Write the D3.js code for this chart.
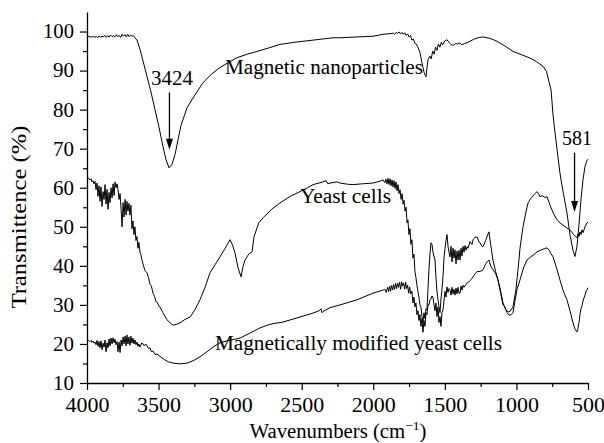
<!DOCTYPE html>
<html>
<head>
<meta charset="utf-8">
<script src="https://d3js.org/d3.v7.min.js"></script>
<style>
  body { margin: 0; background: #fff; }
  svg { display: block; }
  svg text { font-family: "Liberation Serif", "DejaVu Serif", serif; }
</style>
</head>
<body>
<svg id="chart" width="604" height="443"></svg>
<script>
// x: wavenumber (cm-1), y: transmittance (%)
var wnTicks = [4000, 3500, 3000, 2500, 2000, 1500, 1000, 500];
var wnMinor = [3750, 3250, 2750, 2250, 1750, 1250, 750];
var tTicks = [10, 20, 30, 40, 50, 60, 70, 80, 90, 100];
var tMinor = [15, 25, 35, 45, 55, 65, 75, 85, 95];

var nanoData = [[4000,98.8],[3985,98.7],[3970,98.6],[3955,98.7],[3945,98.5],[3935,98.8],[3925,98.4],[3915,98.9],[3905,98.5],[3895,98.8],[3885,98.6],[3875,99.0],[3865,98.5],[3855,98.9],[3845,98.6],[3835,99.1],[3825,98.7],[3815,98.9],[3805,98.6],[3795,99.2],[3785,98.7],[3775,99.0],[3765,98.5],[3755,99.3],[3745,98.8],[3735,99.2],[3725,98.6],[3715,99.3],[3705,98.7],[3695,99.1],[3685,98.8],[3675,98.9],[3665,98.4],[3651,97.8],[3630,95.5],[3609,92.5],[3581,88.5],[3553,84.5],[3525,80.0],[3497,75.5],[3469,70.5],[3448,67.2],[3427,65.1],[3406,66.0],[3385,68.5],[3364,72.3],[3343,76.0],[3301,80.5],[3250,83.5],[3190,86.9],[3130,89.1],[3071,90.8],[3010,92.1],[2952,93.3],[2880,94.2],[2812,94.9],[2730,95.8],[2652,96.7],[2540,97.3],[2421,97.8],[2281,98.4],[2232,98.4],[2120,98.6],[2002,98.8],[1930,99.3],[1870,99.5],[1860,99.6],[1850,99.3],[1840,99.8],[1830,99.5],[1820,99.9],[1810,99.4],[1800,99.8],[1790,99.3],[1780,99.7],[1770,99.0],[1760,99.4],[1750,98.6],[1740,99.0],[1730,97.8],[1720,98.1],[1710,97.0],[1700,96.8],[1688,96.0],[1674,94.6],[1660,92.0],[1645,89.5],[1632,88.4],[1618,92.8],[1604,93.7],[1595,93.0],[1585,95.0],[1575,94.2],[1565,96.0],[1555,95.2],[1545,96.8],[1535,96.0],[1525,97.2],[1515,96.6],[1500,97.6],[1485,97.9],[1470,97.2],[1455,96.6],[1440,96.5],[1425,96.9],[1410,96.8],[1395,97.1],[1380,96.6],[1360,97.0],[1345,97.1],[1300,98.0],[1260,98.5],[1233,98.6],[1190,98.3],[1160,97.9],[1136,97.5],[1080,96.3],[1024,94.9],[960,94.0],[905,93.2],[860,92.3],[814,91.1],[790,89.8],[779,88.1],[758,85.0],[744,78.5],[730,74.0],[716,69.7],[696,63.8],[672,58.5],[647,53.6],[626,48.0],[605,44.0],[591,42.4],[577,45.0],[563,50.5],[549,57.0],[535,62.0],[521,65.5],[507,67.0],[500,67.3]];

var yeastData = [[4000,62.8],[3990,62.5],[3980,62.0],[3972,62.3],[3965,61.5],[3958,61.8],[3951,61.0],[3944,61.6],[3937,59.5],[3930,61.2],[3923,57.8],[3916,60.5],[3909,56.5],[3902,60.2],[3895,55.2],[3888,59.0],[3881,57.0],[3874,60.8],[3867,55.8],[3860,59.6],[3853,54.5],[3846,58.8],[3839,56.2],[3832,60.0],[3825,57.4],[3818,61.0],[3811,58.0],[3804,61.5],[3797,60.0],[3790,61.0],[3783,59.5],[3776,57.0],[3769,58.5],[3762,54.5],[3755,50.0],[3748,56.2],[3741,52.5],[3734,57.0],[3727,53.0],[3721,56.5],[3714,54.0],[3707,56.0],[3700,53.0],[3693,55.5],[3686,49.5],[3679,51.5],[3672,48.0],[3665,50.0],[3658,46.5],[3651,47.5],[3644,44.5],[3637,46.0],[3630,43.5],[3623,42.8],[3616,41.5],[3605,40.0],[3595,38.8],[3581,38.2],[3570,37.0],[3560,35.3],[3550,34.8],[3539,33.0],[3528,32.2],[3518,30.8],[3508,30.6],[3497,29.6],[3490,29.5],[3470,28.0],[3441,26.2],[3420,25.4],[3399,24.8],[3375,25.0],[3350,25.4],[3315,26.3],[3280,26.9],[3245,28.8],[3211,31.3],[3175,34.5],[3141,38.2],[3105,40.3],[3071,42.3],[3035,44.5],[3001,46.7],[2985,45.5],[2966,43.3],[2945,39.5],[2924,37.2],[2910,39.8],[2896,41.5],[2870,43.0],[2847,43.6],[2833,47.5],[2800,51.0],[2770,52.3],[2710,54.5],[2652,56.1],[2580,57.8],[2512,59.0],[2460,60.0],[2421,60.8],[2380,61.2],[2351,61.5],[2330,61.8],[2318,61.0],[2302,61.2],[2253,61.5],[2232,61.2],[2180,60.9],[2142,60.8],[2080,61.0],[2002,61.2],[1960,61.6],[1932,62.0],[1920,61.3],[1912,62.2],[1904,61.0],[1897,62.4],[1890,60.8],[1883,62.3],[1876,60.5],[1869,62.0],[1862,60.2],[1855,61.8],[1848,59.8],[1841,61.5],[1834,59.2],[1827,60.8],[1820,58.5],[1813,59.5],[1806,57.0],[1799,58.5],[1792,55.8],[1785,56.8],[1778,54.0],[1771,55.0],[1764,51.0],[1758,51.8],[1751,48.0],[1744,49.5],[1737,45.5],[1730,46.7],[1723,42.0],[1716,43.0],[1709,38.5],[1702,37.0],[1695,35.0],[1688,33.5],[1681,32.0],[1674,30.0],[1667,29.5],[1660,27.0],[1653,25.5],[1646,28.0],[1639,26.5],[1632,29.0],[1625,28.7],[1618,34.0],[1611,39.0],[1604,43.0],[1597,45.9],[1590,45.5],[1583,43.5],[1576,42.5],[1569,41.5],[1562,37.0],[1555,33.5],[1548,31.3],[1541,29.5],[1534,28.0],[1527,31.5],[1520,34.0],[1513,37.2],[1506,42.0],[1499,44.5],[1492,46.5],[1485,48.0],[1478,45.0],[1471,43.5],[1464,42.3],[1457,45.0],[1450,41.0],[1443,44.5],[1436,42.0],[1429,44.1],[1422,40.5],[1415,43.8],[1408,41.5],[1401,44.0],[1394,41.5],[1387,44.5],[1380,42.5],[1373,45.0],[1366,43.5],[1359,45.2],[1352,44.0],[1345,44.9],[1338,44.5],[1324,46.2],[1310,45.5],[1303,46.7],[1289,47.3],[1275,47.4],[1260,46.0],[1254,45.9],[1240,45.0],[1233,44.9],[1215,46.5],[1200,48.0],[1192,48.7],[1180,45.5],[1164,41.5],[1145,38.5],[1129,36.4],[1110,33.5],[1094,30.5],[1075,28.8],[1059,28.2],[1045,28.3],[1024,29.5],[1005,33.5],[989,39.0],[975,44.5],[954,50.0],[935,53.5],[919,56.1],[895,57.5],[870,58.5],[856,59.0],[845,58.5],[835,57.7],[820,58.0],[800,57.5],[786,57.7],[765,55.5],[744,53.6],[720,52.0],[696,51.0],[660,50.0],[626,49.2],[600,48.0],[577,47.2],[570,48.2],[563,47.5],[556,48.7],[549,48.0],[542,49.2],[535,48.5],[521,50.0],[507,51.0],[500,51.2]];

var modData = [[4000,20.8],[3990,20.9],[3980,20.6],[3972,20.9],[3965,20.4],[3958,20.7],[3951,20.2],[3944,20.5],[3937,19.8],[3930,20.9],[3923,19.4],[3916,20.6],[3909,19.0],[3902,20.8],[3895,18.5],[3888,20.2],[3881,19.2],[3874,21.0],[3867,18.0],[3860,20.3],[3853,19.0],[3846,21.3],[3839,19.5],[3832,21.5],[3825,20.0],[3818,21.6],[3811,20.3],[3804,21.2],[3797,19.8],[3790,20.6],[3783,18.0],[3776,20.5],[3769,17.8],[3762,21.0],[3755,19.5],[3748,21.8],[3741,20.0],[3734,22.0],[3727,19.5],[3721,22.3],[3714,20.0],[3707,21.8],[3700,19.6],[3693,22.0],[3686,20.2],[3679,21.5],[3672,20.0],[3665,21.0],[3658,19.8],[3651,20.5],[3644,19.4],[3637,20.0],[3630,19.2],[3616,20.3],[3600,19.5],[3590,20.0],[3581,19.5],[3570,18.8],[3560,19.0],[3550,18.0],[3539,18.2],[3525,17.3],[3510,17.4],[3490,16.8],[3460,16.0],[3430,15.4],[3399,15.1],[3350,14.9],[3300,15.1],[3259,15.7],[3211,16.7],[3162,18.0],[3120,19.2],[3071,20.3],[3020,20.8],[2931,21.5],[2860,22.8],[2791,24.1],[2740,24.8],[2700,25.2],[2631,25.6],[2512,26.9],[2421,27.9],[2380,28.5],[2372,28.7],[2365,29.0],[2358,28.0],[2351,28.3],[2302,29.3],[2232,30.0],[2114,31.3],[2002,33.0],[1930,33.8],[1920,34.0],[1910,33.2],[1900,34.5],[1893,33.4],[1886,34.8],[1879,33.5],[1872,35.0],[1865,33.8],[1858,35.2],[1851,34.0],[1844,35.5],[1837,34.2],[1830,35.6],[1823,34.5],[1816,35.8],[1809,34.0],[1802,35.9],[1795,34.8],[1788,35.6],[1781,34.0],[1774,35.8],[1767,34.2],[1760,35.0],[1753,33.0],[1746,34.6],[1739,32.8],[1730,33.5],[1723,30.5],[1716,32.0],[1709,29.5],[1702,30.5],[1695,27.5],[1688,28.5],[1681,26.0],[1674,27.5],[1667,24.5],[1660,26.5],[1653,23.0],[1646,26.0],[1639,24.5],[1632,28.0],[1625,27.5],[1618,30.0],[1611,30.0],[1604,31.3],[1597,31.5],[1590,32.3],[1583,32.0],[1576,30.0],[1569,28.5],[1562,30.5],[1555,27.0],[1548,29.5],[1541,25.5],[1534,27.0],[1527,24.5],[1520,28.0],[1513,28.7],[1506,31.0],[1499,33.5],[1492,32.0],[1485,34.6],[1478,33.2],[1471,34.2],[1464,33.9],[1457,32.5],[1450,34.5],[1443,32.8],[1436,34.0],[1429,32.5],[1422,34.3],[1415,32.8],[1408,34.5],[1401,33.0],[1394,33.0],[1387,34.8],[1380,33.8],[1373,35.0],[1366,34.5],[1352,35.2],[1345,35.6],[1330,36.0],[1316,36.5],[1303,37.2],[1289,38.0],[1275,38.5],[1254,38.6],[1240,38.8],[1233,39.0],[1215,40.5],[1200,41.2],[1192,41.5],[1180,40.0],[1164,39.0],[1145,38.0],[1129,36.4],[1110,33.0],[1094,30.0],[1080,29.5],[1066,28.0],[1052,27.4],[1045,27.4],[1035,27.6],[1024,28.0],[1010,31.0],[996,34.0],[975,36.4],[950,39.5],[926,41.5],[900,42.3],[880,42.8],[856,43.6],[830,44.0],[805,44.4],[786,44.6],[770,44.0],[760,43.2],[744,42.3],[720,39.5],[696,36.4],[672,33.5],[647,31.3],[626,28.5],[605,25.4],[591,23.8],[577,23.1],[570,24.0],[563,25.5],[556,27.5],[549,29.0],[542,29.8],[535,31.0],[528,31.8],[521,32.5],[514,33.5],[507,33.9],[500,34.4]];

var seriesNames = ["Magnetic nanoparticles", "Yeast cells", "Magnetically modified yeast cells"];
var peakLabels = ["3424", "581"];

var FONT = "'Liberation Serif', 'DejaVu Serif', serif";

var svg = d3.select("#chart");
var x = d3.scaleLinear().domain([4000, 500]).range([87, 588]);
var y = d3.scaleLinear().domain([10, 105]).range([383, 12]);

/* axes */
var gxMinor = svg.append("g").attr("transform", "translate(0,383)")
    .call(d3.axisBottom(x).tickValues(wnMinor).tickSize(4).tickFormat(""));
gxMinor.select(".domain").remove();
var gx = svg.append("g").attr("transform", "translate(0,383)")
    .call(d3.axisBottom(x).tickValues(wnTicks).tickSize(7).tickSizeOuter(0).tickPadding(8).tickFormat(d3.format("d")));
gx.attr("font-family", FONT).attr("font-size", 20);
gx.selectAll("text")
    .attr("textLength", function(d){ return d >= 1000 ? 44 : 33; })
    .attr("lengthAdjust", "spacingAndGlyphs");

var gyMinor = svg.append("g").attr("transform", "translate(87,0)")
    .call(d3.axisLeft(y).tickValues(tMinor).tickSize(4).tickFormat(""));
gyMinor.select(".domain").remove();
var gy = svg.append("g").attr("transform", "translate(87,0)")
    .call(d3.axisLeft(y).tickValues(tTicks).tickSize(7).tickSizeOuter(0).tickPadding(6).tickFormat(d3.format("d")));
gy.attr("font-family", FONT).attr("font-size", 20);
gy.selectAll("text")
    .attr("textLength", function(d){ return d >= 100 ? 31 : 21; })
    .attr("lengthAdjust", "spacingAndGlyphs");

svg.selectAll(".domain").attr("stroke-width", 1.3);
svg.selectAll(".tick line").attr("stroke-width", 1.2);

/* curves */
var line = d3.line().x(function(d){ return x(d[0]); }).y(function(d){ return y(d[1]); });
[nanoData, yeastData, modData].forEach(function(data){
    svg.append("path").datum(data)
        .attr("d", line)
        .attr("fill", "none")
        .attr("stroke", "#000")
        .attr("stroke-width", 1)
        .attr("stroke-linejoin", "round");
});

/* labels (placed in data coordinates) */
function label(txt, wn, t, len){
    return svg.append("text").attr("x", x(wn)).attr("y", y(t))
        .attr("font-family", FONT).attr("font-size", 20)
        .attr("textLength", len).attr("lengthAdjust", "spacingAndGlyphs")
        .text(txt);
}
label(seriesNames[0], 3036, 89.0, 198);
label(seriesNames[1], 2512, 56.2, 91);
label(seriesNames[2], 3106, 18.5, 287);
label(peakLabels[0], 3553, 86.4, 42);
label(peakLabels[1], 682, 71.0, 30);

/* arrows */
function arrow(wn, t0, t1){
    var ax = x(wn), y0 = y(t0), y1 = y(t1);
    svg.append("line").attr("x1", ax).attr("x2", ax).attr("y1", y0).attr("y2", y1 - 9)
        .attr("stroke", "#000").attr("stroke-width", 1.3);
    svg.append("path")
        .attr("d", "M" + (ax - 3.5) + "," + (y1 - 11) + "L" + (ax + 3.5) + "," + (y1 - 11) + "L" + ax + "," + y1 + "Z")
        .attr("fill", "#000");
}
arrow(3424, 84.4, 69.7);
arrow(594, 69, 53.8);

/* axis titles */
var xt = svg.append("text").attr("x", 338).attr("y", 438)
    .attr("text-anchor", "middle").attr("font-family", FONT).attr("font-size", 20)
    .attr("textLength", 177).attr("lengthAdjust", "spacingAndGlyphs");
xt.append("tspan").text("Wavenumbers (cm");
xt.append("tspan").attr("font-size", 13).attr("dy", -8).text("\u22121");
xt.append("tspan").attr("dy", 8).text(")");

svg.append("text")
    .attr("transform", "translate(26,217) rotate(-90)")
    .attr("text-anchor", "middle").attr("font-family", FONT).attr("font-size", 20)
    .attr("textLength", 183).attr("lengthAdjust", "spacingAndGlyphs")
    .text("Transmittence (%)");
</script>
</body>
</html>
